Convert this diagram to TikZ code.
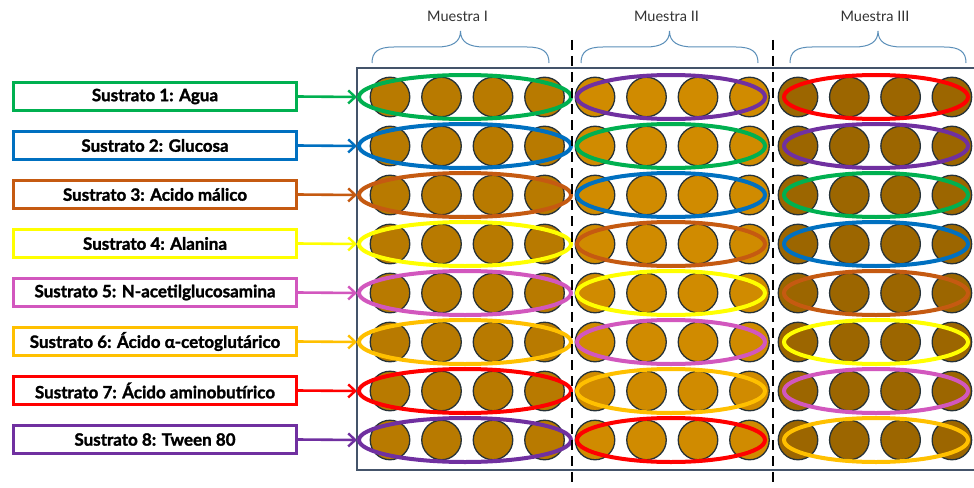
\documentclass[tikz,border=0pt]{standalone}
\usepackage{fontspec}
\setmainfont{Lato}[BoldFeatures={FakeBold=1.6}]
\usetikzlibrary{shapes.geometric,arrows.meta}
\definecolor{cgreen}{HTML}{00B050}
\definecolor{cblue}{HTML}{0070C0}
\definecolor{cbrown}{HTML}{C55A11}
\definecolor{cyellow}{HTML}{FFFF00}
\definecolor{cpink}{HTML}{D257BE}
\definecolor{camber}{HTML}{FFC000}
\definecolor{cred}{HTML}{FF0000}
\definecolor{cpurple}{HTML}{7030A0}
\definecolor{wellA}{HTML}{B87A00}
\definecolor{wellB}{HTML}{D08B00}
\definecolor{wellC}{HTML}{9C6600}
\definecolor{wellline}{HTML}{263238}
\definecolor{plateline}{HTML}{44546A}
\definecolor{bracecol}{HTML}{5B8FB9}
\definecolor{mtext}{HTML}{333333}
\tikzset{
  well/.style={circle, draw=wellline, line width=1.3pt, minimum size=39.5pt, inner sep=0pt},
  ring/.style={ellipse, line width=4pt, minimum height=44pt, inner sep=0pt},
  lbl/.style={draw, line width=2.6pt, minimum width=283pt, minimum height=28pt, inner sep=0pt, fill=white,
    font=\bfseries\fontsize{17}{19}\selectfont},
  arr/.style={line width=2.6pt, -{Straight Barb[length=7pt,width=13pt,line width=2.4pt]}},
  bracestyle/.style={draw=bracecol, line width=1pt},
  mlabel/.style={font=\fontsize{14.5}{17}\selectfont, text=mtext, inner sep=0pt},
  plate/.style={draw=plateline, line width=2pt},
  divider/.style={draw=black, line width=2.6pt, dash pattern=on 10pt off 6pt}
}
\begin{document}
\begin{tikzpicture}[x=1pt,y=-1pt]
\useasboundingbox (0,0) rectangle (974,487);
\fill[white] (0,0) rectangle (974,487);
\clip (0,0) rectangle (974,487);
% plate
\draw[plate] (357,68) rectangle (1010,470);
% braces and titles
\foreach \a/\b/\t [count=\i] in {372/549/Muestra I, 581/758/Muestra II, 790/966/Muestra III}{
  \pgfmathsetmacro\mm{(\a+\b)/2}
  \draw[bracestyle] (\a,63) .. controls (\a,52) and (\a+6,47) .. (\a+22,47) -- (\mm-24,47)
    .. controls (\mm-8,47) and (\mm,42) .. (\mm,31)
    .. controls (\mm,42) and (\mm+8,47) .. (\mm+24,47) -- (\b-22,47)
    .. controls (\b-6,47) and (\b,52) .. (\b,63);
  \node[mlabel] (M\i) at (\mm-3,16) {\t};
}
% wells
\foreach \r in {1,...,8}{
  \pgfmathsetmacro\yy{97+(\r-1)*49}
  \foreach \k in {0,1,2,3}{
    \node[well, fill=wellA] (wA\r\k) at (390+51.5*\k,\yy) {};
    \node[well, fill=wellB] (wB\r\k) at (595+51.5*\k,\yy) {};
    \node[well, fill=wellC] (wC\r\k) at (798+51.3*\k,\yy) {};
  }
}
% rings and labels
\foreach \r/\ca/\cb/\cc/\txt in {
  1/cgreen/cpurple/cred/{Sustrato 1: Agua},
  2/cblue/cgreen/cpurple/{Sustrato 2: Glucosa},
  3/cbrown/cblue/cgreen/{Sustrato 3: Acido málico},
  4/cyellow/cbrown/cblue/{Sustrato 4: Alanina},
  5/cpink/cyellow/cbrown/{Sustrato 5: N-acetilglucosamina},
  6/camber/cpink/cyellow/{Sustrato 6: Ácido α-cetoglutárico},
  7/cred/camber/cpink/{Sustrato 7: Ácido aminobutírico},
  8/cpurple/cred/camber/{Sustrato 8: Tween 80}}{
  \pgfmathsetmacro\yy{97+(\r-1)*49}
  \node[ring, draw=\ca, minimum width=212pt] (eA\r) at (465,\yy) {};
  \node[ring, draw=\cb, minimum width=188pt] (eB\r) at (671,\yy) {};
  \node[ring, draw=\cc, minimum width=184pt] (eC\r) at (876,\yy) {};
  \node[lbl, draw=\ca] (L\r) at (155,\yy-0.5) {\txt};
  \draw[arr, draw=\ca] (L\r.east) -- (eA\r.west);
}
% dividers
\coordinate (d1t) at (572,40); \coordinate (d1b) at (572,490);
\coordinate (d2t) at (773,40); \coordinate (d2b) at (773,490);
\draw[divider] (d1t) -- (d1b);
\draw[divider] (d2t) -- (d2b);
\end{tikzpicture}
\end{document}
